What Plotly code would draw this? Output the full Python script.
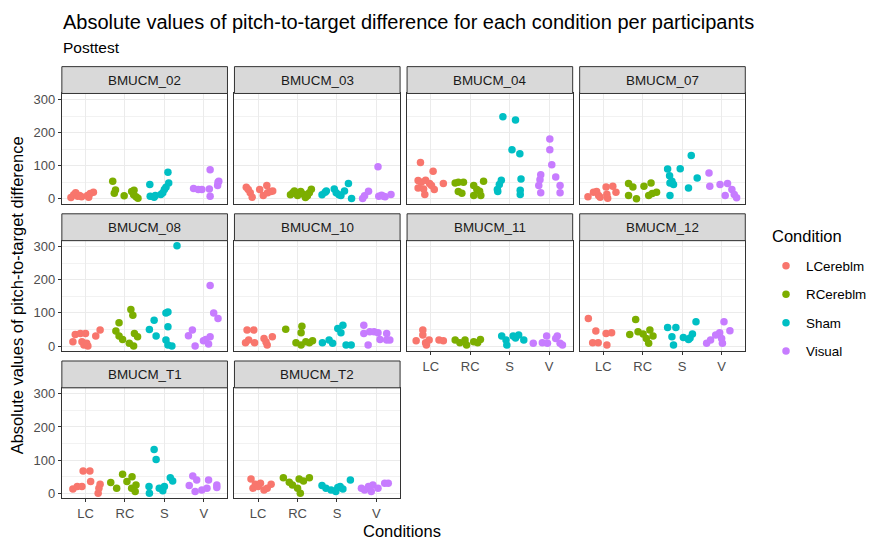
import plotly.graph_objects as go

# ---- data -----------------------------------------------------------------
conditions = ["LCereblm", "RCereblm", "Sham", "Visual"]
cond_ticks = ["LC", "RC", "S", "V"]
colors = ["#F8766D", "#7CAE00", "#00BFC4", "#C77CFF"]
participants = ["BMUCM_02", "BMUCM_03", "BMUCM_04", "BMUCM_07", "BMUCM_08",
                "BMUCM_10", "BMUCM_11", "BMUCM_12", "BMUCM_T1", "BMUCM_T2"]
y_ticks = [0, 100, 200, 300]

# absolute pitch-to-target differences, per participant and condition
v02 = {"LC": [4, 12, 18, 8, 10, 6, 10, 5, 16, 20], "RC": [53, 27, 17, 9, 22, 26, 12, 6, 2],
       "S": [43, 8, 5, 10, 13, 28, 35, 48, 80, 18], "V": [31, 28, 28, 88, 30, 8, 50, 40, 53]}
v03 = {"LC": [35, 28, 18, 5, 28, 10, 40, 18, 22, 24], "RC": [12, 18, 24, 10, 22, 14, 4, 9, 18, 29],
       "S": [12, 20, 24, 30, 18, 12, 10, 24, 46, 1], "V": [1, 9, 23, 97, 8, 11, 8, 6, 13]}
v04 = {"LC": [110, 83, 55, 50, 56, 46, 33, 30, 13, 40, 28, 46], "RC": [48, 50, 50, 22, 17, 40, 28, 10, 10, 53, 23],
       "S": [248, 238, 148, 136, 56, 43, 28, 22, 60, 26, 13], "V": [181, 148, 103, 73, 58, 40, 18, 66, 40, 18]}
v07 = {"LC": [6, 20, 22, 10, 5, 36, 14, 2, 38, 20], "RC": [46, 36, 10, 0, 38, 48, 10, 16, 20],
       "S": [90, 70, 48, 53, 43, 10, 91, 131, 63, 33], "V": [78, 38, 43, 46, 10, 28, 13, 3]}
v08 = {"LC": [13, 35, 38, 38, 13, 3, 0, 8, 30, 48], "RC": [45, 70, 30, 20, 110, 93, 8, 0, 38, 28],
       "S": [50, 78, 30, 100, 103, 58, 18, 3, 0, 303], "V": [31, 48, 0, 16, 20, 6, 28, 183, 100, 83]}
v10 = {"LC": [48, 48, 10, 18, 10, 23, 3, 28, 12], "RC": [51, 60, 40, 10, 3, 13, 16, 10],
       "S": [10, 18, 8, 53, 63, 3, 3, 40], "V": [63, 38, 43, 43, 40, 20, 3, 38, 18, 18]}
v11 = {"LC": [48, 33, 16, 10, 18, 3, 18, 16], "RC": [18, 10, 18, 3, 13, 20, 10],
       "S": [30, 18, 3, 30, 33, 18, 24], "V": [8, 10, 30, 8, 23, 30, 8, 3]}
v12 = {"LC": [83, 45, 10, 10, 38, 40, 3], "RC": [80, 35, 43, 36, 48, 23, 30, 8],
       "S": [56, 56, 28, 3, 26, 20, 36, 73, 24], "V": [8, 18, 33, 40, 8, 73, 46, 23]}
vT1 = {"LC": [13, 20, 20, 67, 67, 35, 0, 15, 27], "RC": [32, 15, 57, 35, 50, 15, 25, 5],
       "S": [20, 0, 132, 102, 15, 7, 20, 37, 47], "V": [23, 52, 40, 5, 10, 15, 40, 25, 17]}
vT2 = {"LC": [43, 27, 15, 30, 10, 15, 27, 20], "RC": [47, 33, 25, 43, 37, 47, 0, 15],
       "S": [23, 15, 10, 17, 13, 40, 5, 20], "V": [15, 10, 20, 25, 15, 30, 30, 5]}

# horizontal jitter (category units) applied to each point
j02 = {"LC": [-0.37, -0.30, -0.25, -0.20, -0.15, -0.10, 0.05, 0.08, 0.12, 0.20],
       "RC": [-0.31, -0.24, -0.27, -0.02, 0.17, 0.23, 0.22, 0.28, 0.33],
       "S": [-0.37, -0.36, -0.26, -0.23, -0.09, 0.0, 0.04, 0.11, 0.09, -0.04],
       "V": [-0.26, -0.14, -0.05, 0.16, 0.14, 0.16, 0.36, 0.35, 0.38]}
j03 = {"LC": [-0.30, -0.25, -0.20, -0.15, 0.04, 0.13, 0.22, 0.24, 0.32, 0.37],
       "RC": [-0.18, -0.12, -0.08, 0.0, 0.08, 0.15, 0.20, 0.25, 0.30, 0.35],
       "S": [-0.38, -0.30, -0.27, -0.07, -0.02, 0.05, 0.10, 0.19, 0.29, 0.37],
       "V": [-0.35, -0.30, -0.20, 0.04, 0.06, 0.13, 0.18, 0.22, 0.37]}
j04 = {"LC": [-0.26, 0.06, -0.32, -0.24, -0.13, -0.03, -0.32, -0.18, -0.15, 0.02, 0.09, 0.32],
       "RC": [-0.38, -0.30, -0.17, -0.30, -0.21, 0.09, 0.17, 0.09, 0.27, 0.34, 0.24],
       "S": [-0.17, 0.15, 0.06, 0.26, -0.21, -0.26, -0.31, -0.30, 0.29, 0.27, 0.27],
       "V": [0.02, 0.02, 0.07, -0.21, -0.23, -0.26, -0.21, 0.17, 0.28, 0.28]}
j07 = {"LC": [-0.39, -0.25, -0.17, -0.12, -0.08, 0.07, 0.09, 0.11, 0.24, 0.32],
       "RC": [-0.36, -0.25, -0.36, -0.16, 0.03, 0.21, 0.15, 0.24, 0.35],
       "S": [-0.37, -0.32, -0.31, -0.26, -0.22, -0.31, -0.05, 0.23, 0.38, 0.16],
       "V": [-0.32, -0.30, -0.04, 0.15, 0.09, 0.26, 0.32, 0.38]}
j08 = {"LC": [-0.32, -0.26, -0.13, 0.0, -0.09, -0.04, 0.06, 0.03, 0.26, 0.37],
       "RC": [-0.23, -0.15, -0.15, -0.06, 0.15, 0.20, 0.11, 0.22, 0.24, 0.32],
       "S": [-0.38, -0.26, -0.21, 0.04, 0.09, 0.09, 0.04, 0.09, 0.19, 0.32],
       "V": [-0.39, -0.29, -0.22, -0.01, 0.05, 0.12, 0.16, 0.16, 0.25, 0.36]}
j10 = {"LC": [-0.28, -0.11, -0.32, -0.24, -0.09, 0.15, 0.23, 0.36, 0.20],
       "RC": [-0.30, 0.11, 0.09, -0.04, 0.09, 0.21, 0.38, 0.30],
       "S": [-0.37, -0.20, -0.11, 0.02, 0.15, 0.23, 0.36, 0.10],
       "V": [-0.32, -0.32, -0.17, -0.06, 0.04, 0.09, -0.21, 0.26, 0.26, 0.34]}
j11 = {"LC": [-0.20, -0.20, -0.37, -0.13, -0.04, -0.11, 0.21, 0.32],
       "RC": [-0.38, -0.26, -0.13, -0.09, 0.09, 0.26, 0.19],
       "S": [-0.20, -0.09, -0.07, 0.09, 0.23, 0.36, 0.15],
       "V": [-0.40, -0.17, -0.06, -0.04, 0.17, 0.21, 0.28, 0.34]}
j12 = {"LC": [-0.38, -0.19, -0.27, -0.13, 0.07, 0.21, 0.09],
       "RC": [-0.18, -0.33, -0.12, 0.01, 0.18, 0.09, 0.26, 0.15],
       "S": [-0.37, -0.16, -0.26, -0.22, 0.03, 0.16, 0.26, 0.35, 0.20],
       "V": [-0.38, -0.28, -0.15, -0.05, 0.02, 0.06, 0.21, 0.0]}
jT1 = {"LC": [-0.32, -0.21, -0.09, -0.06, 0.11, 0.13, 0.32, 0.34, 0.37],
       "RC": [-0.36, -0.21, -0.06, 0.05, 0.18, 0.17, 0.28, 0.26],
       "S": [-0.39, -0.38, -0.26, -0.21, -0.13, -0.04, 0.0, 0.21, 0.15],
       "V": [-0.37, -0.28, -0.18, -0.22, -0.05, 0.08, 0.12, 0.33, 0.33]}
jT2 = {"LC": [-0.18, -0.07, -0.13, 0.06, 0.15, 0.23, 0.33, 0.0],
       "RC": [-0.36, -0.21, -0.13, 0.04, 0.15, 0.30, 0.07, 0.0],
       "S": [-0.38, -0.28, -0.15, 0.02, 0.15, 0.34, -0.03, 0.08],
       "V": [-0.38, -0.30, -0.20, -0.09, 0.04, 0.21, 0.30, -0.13]}

values = [v02, v03, v04, v07, v08, v10, v11, v12, vT1, vT2]
jitters = [j02, j03, j04, j07, j08, j10, j11, j12, jT1, jT2]

# ---- layout geometry (pixels) -----------------------------------------------
W, H = 872, 540
FONT = "Liberation Sans"
col_x = [(62, 228), (235, 401), (408, 574), (581, 747)]
row_y = [(93, 204), (241, 352), (389, 500)]
STRIP_H = 27
Y_RANGE = [-15.2, 318.2]
X_RANGE = [0.4, 4.6]
TICK_SIZE = 13
STRIP_SIZE = 13.4


def px_x(p):
    return p / W


def px_y(p):
    return 1 - p / H


fig = go.Figure()
layout = dict(
    width=W, height=H,
    margin=dict(l=0, r=0, t=0, b=0),
    paper_bgcolor="white", plot_bgcolor="white",
    font=dict(family=FONT, color="#1A1A1A"),
    showlegend=True,
    legend=dict(
        x=px_x(768), y=px_y(251), xanchor="left", yanchor="top",
        font=dict(size=13.4, color="#000000", family=FONT),
        tracegroupgap=8, itemsizing="trace", bgcolor="rgba(0,0,0,0)",
    ),
)
shapes, annotations = [], []

for i, name in enumerate(participants):
    r, c = divmod(i, 4)
    ax = "" if i == 0 else str(i + 1)
    x0, x1 = col_x[c]
    y0, y1 = row_y[r]
    # axes with tick labels only on outer panels (facet_wrap style)
    show_x = (r == 2) or (r == 1 and c >= 2)
    show_y = c == 0
    layout["xaxis" + ax] = dict(
        domain=[px_x(x0), px_x(x1)], range=X_RANGE, anchor="y" + ax,
        tickvals=[1, 2, 3, 4], ticktext=cond_ticks,
        showticklabels=show_x, ticks="outside" if show_x else "",
        ticklen=3, tickcolor="#333333", tickwidth=1,
        tickfont=dict(size=TICK_SIZE, color="#4D4D4D", family=FONT),
        showgrid=True, gridcolor="#EBEBEB", gridwidth=1.1,
        zeroline=False, showline=True, linecolor="#333333", linewidth=1, mirror=True,
        fixedrange=True,
    )
    layout["yaxis" + ax] = dict(
        domain=[px_y(y1), px_y(y0)], range=Y_RANGE, anchor="x" + ax,
        tickvals=y_ticks, showticklabels=show_y, ticks="outside" if show_y else "",
        ticklen=3, tickcolor="#333333", tickwidth=1,
        tickfont=dict(size=TICK_SIZE, color="#4D4D4D", family=FONT),
        showgrid=True, gridcolor="#EBEBEB", gridwidth=1.1,
        minor=dict(tickvals=[50, 150, 250], showgrid=True, gridcolor="#F2F2F2", gridwidth=0.6),
        zeroline=False, showline=True, linecolor="#333333", linewidth=1, mirror=True,
        fixedrange=True,
    )
    # strip
    shapes.append(dict(type="rect", xref="paper", yref="paper",
                       x0=px_x(x0), x1=px_x(x1), y0=px_y(y0), y1=px_y(y0 - STRIP_H),
                       fillcolor="#D9D9D9", line=dict(color="#333333", width=1)))
    annotations.append(dict(text=name, xref="paper", yref="paper",
                            x=px_x((x0 + x1) / 2), y=px_y(y0 - STRIP_H / 2),
                            xanchor="center", yanchor="middle", showarrow=False,
                            font=dict(size=STRIP_SIZE, color="#1A1A1A", family=FONT)))
    # points
    for k, (cond, tick, col) in enumerate(zip(conditions, cond_ticks, colors)):
        ys = values[i][tick]
        xs = [k + 1 + d for d in jitters[i][tick]]
        fig.add_trace(go.Scatter(
            x=xs, y=ys, mode="markers", name=cond, legendgroup=cond,
            showlegend=(i == 0),
            marker=dict(color=col, size=7.5, line=dict(width=0)),
            xaxis="x" + ax, yaxis="y" + ax, cliponaxis=False,
        ))

# titles
annotations += [
    dict(text="Absolute values of pitch-to-target difference for each condition per participants",
         xref="paper", yref="paper", x=px_x(61), y=px_y(21), xanchor="left", yanchor="middle",
         showarrow=False, font=dict(size=20, color="#000000", family=FONT)),
    dict(text="Posttest", xref="paper", yref="paper", x=px_x(61), y=px_y(47),
         xanchor="left", yanchor="middle", showarrow=False,
         font=dict(size=15.5, color="#000000", family=FONT)),
    dict(text="Conditions", xref="paper", yref="paper", x=px_x(403), y=px_y(533),
         xanchor="center", yanchor="middle", showarrow=False,
         font=dict(size=16.5, color="#000000", family=FONT)),
    dict(text="Absolute values of pitch-to-target difference", xref="paper", yref="paper",
         x=px_x(17), y=px_y(296), xanchor="center", yanchor="middle", textangle=-90,
         showarrow=False, font=dict(size=16.5, color="#000000", family=FONT)),
    dict(text="Condition", xref="paper", yref="paper", x=px_x(772), y=px_y(236),
         xanchor="left", yanchor="middle", showarrow=False,
         font=dict(size=16.5, color="#000000", family=FONT)),
]
layout["shapes"] = shapes
layout["annotations"] = annotations
fig.update_layout(**layout)
fig.write_html("out.html")
